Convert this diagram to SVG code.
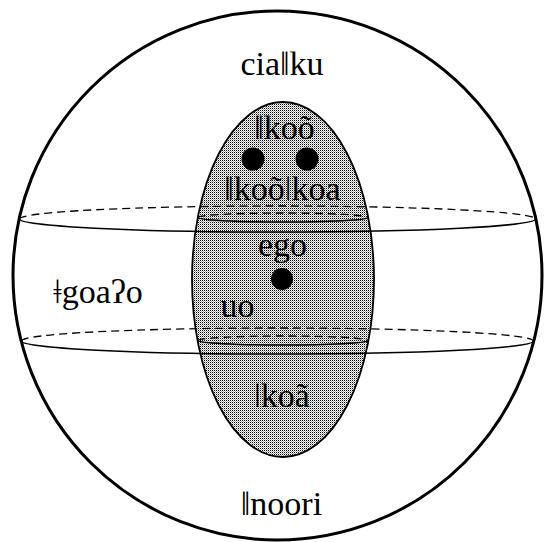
<svg xmlns="http://www.w3.org/2000/svg" width="547" height="542" viewBox="0 0 547 542">
<defs>
<pattern id="dots" width="2" height="2" patternUnits="userSpaceOnUse">
<rect width="2" height="2" fill="#fff"/>
<rect x="0" y="0" width="1" height="1" fill="#000"/>
<rect x="1" y="1" width="1" height="1" fill="#aaa"/>
</pattern>
<style>
.lbl{font-family:"Liberation Serif","DejaVu Serif",serif;font-size:34px;fill:#000;text-anchor:middle}
.solid{fill:none;stroke:#000;stroke-width:1.6}
.dash{fill:none;stroke:#000;stroke-width:1.3;stroke-dasharray:8 5}
.dot{fill:#000}
</style>
</defs>
<rect width="547" height="542" fill="#fff"/>
<g id="sphere">
<circle cx="277.5" cy="275.5" r="264.5" fill="#fff" stroke="#000" stroke-width="3"/>
</g>
<g id="lens">
<ellipse cx="283" cy="279.5" rx="91" ry="177.5" fill="url(#dots)" stroke="#000" stroke-width="1.8"/>
</g>
<g id="connectors">
<path class="dash" d="M19.5,219 A258,13 0 0 1 535.5,219"/>
<path class="solid" d="M19.5,219 A258,13 0 0 0 535.5,219"/>
<path class="dash" d="M21.5,341 A256,13 0 0 1 533.5,341"/>
<path class="solid" d="M21.5,341 A256,13 0 0 0 533.5,341"/>
<path class="dash" d="M198,217.5 A85,4.5 0 0 1 368,217.5"/>
<path class="solid" d="M198,217.5 A85,4.5 0 0 0 368,217.5"/>
<path class="dash" d="M198,340.5 A85,4.5 0 0 1 368,340.5"/>
<path class="solid" d="M198,340.5 A85,4.5 0 0 0 368,340.5"/>
</g>
<g id="n-cialku"><text class="lbl" x="282" y="75">ciaǁku</text></g>
<g id="n-koo"><text class="lbl" x="284.5" y="139">ǁkoõ</text>
<circle class="dot" cx="253" cy="159" r="11.5"/>
<circle class="dot" cx="307" cy="159" r="11.5"/></g>
<g id="n-kookoa"><text class="lbl" x="282.5" y="200">ǁkoõǀkoa</text></g>
<g id="n-ego"><text class="lbl" x="282.5" y="256">ego</text>
<circle class="dot" cx="282" cy="279" r="11"/></g>
<g id="n-uo"><text class="lbl" x="237.5" y="317">uo</text></g>
<g id="n-goao"><text class="lbl" x="98" y="303">ǂgoaʔo</text></g>
<g id="n-koa"><text class="lbl" x="282" y="407">ǀkoã</text></g>
<g id="n-noori"><text class="lbl" x="281.5" y="515">ǁnoori</text></g>
</svg>
